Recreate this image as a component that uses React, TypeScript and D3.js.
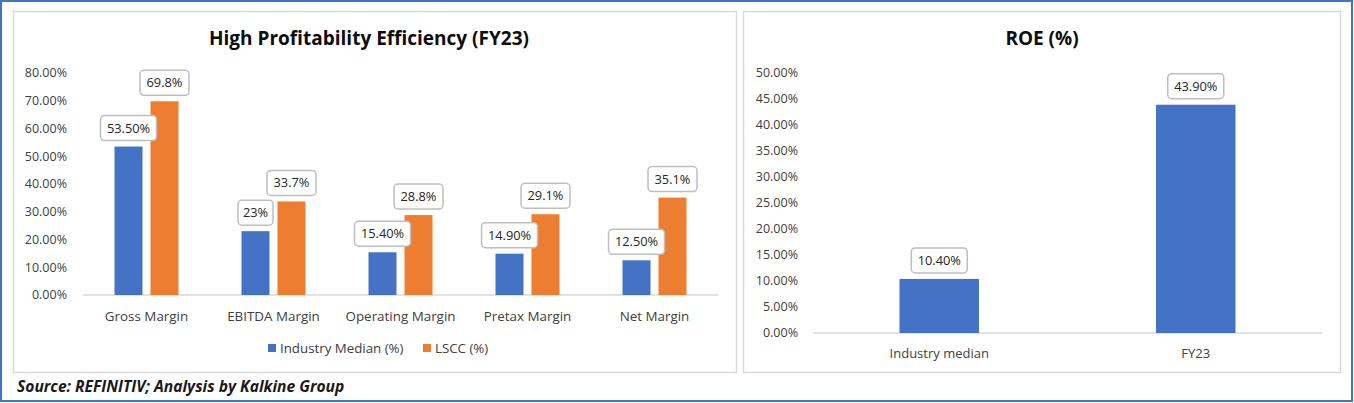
import React from "react";
import * as d3 from "d3";

const categories = ["Gross Margin", "EBITDA Margin", "Operating Margin", "Pretax Margin", "Net Margin"];
const seriesNames = ["Industry Median (%)", "LSCC (%)"];
const industryValues = [53.5, 23, 15.4, 14.9, 12.5];
const industryLabels = ["53.50%", "23%", "15.40%", "14.90%", "12.50%"];
const lsccValues = [69.8, 33.7, 28.8, 29.1, 35.1];
const lsccLabels = ["69.8%", "33.7%", "28.8%", "29.1%", "35.1%"];
const leftTicks = [0, 10, 20, 30, 40, 50, 60, 70, 80];

const roeCategories = ["Industry median", "FY23"];
const roeValues = [10.4, 43.9];
const roeLabels = ["10.40%", "43.90%"];
const rightTicks = [0, 5, 10, 15, 20, 25, 30, 35, 40, 45, 50];

const BLUE = "#4472C4";
const ORANGE = "#ED7D31";
const FONT = "'Open Sans', sans-serif";

function Callout({ cx, barTop, text }: { cx: number; barTop: number; text: string }) {
  const w = text.length * 7 + 14;
  const h = 25;
  const y = barTop - 6 - h;
  return (
    <g>
      <rect x={cx - w / 2} y={y} width={w} height={h} rx={4} ry={4} fill="#fff" stroke="#bfbfbf" strokeWidth={1.5} />
      <text x={cx} y={y + h / 2} dy="0.35em" textAnchor="middle" fontSize={12.8} fill="#262626" fontFamily={FONT}>
        {text}
      </text>
    </g>
  );
}

export default function App() {
  const yL = d3.scaleLinear().domain([0, 80]).range([295, 73]);
  const xL = d3.scaleBand<string>().domain(categories).range([83, 718]);
  const bw = xL.bandwidth();
  const xSub = d3.scaleBand<string>().domain(seriesNames).range([bw / 2 - 32, bw / 2 + 32]).paddingInner(8 / 36);

  const yR = d3.scaleLinear().domain([0, 50]).range([333, 73]);
  const xR = d3.scaleBand<string>().domain(roeCategories).range([811, 1324]).paddingInner(0.69).paddingOuter(0.345);

  const seriesData = [
    { name: seriesNames[0], values: industryValues, labels: industryLabels, color: BLUE },
    { name: seriesNames[1], values: lsccValues, labels: lsccLabels, color: ORANGE },
  ];

  const legendX = [268, 423];

  return (
    <svg width={1354} height={403} style={{ position: "absolute", left: 0, top: 0, display: "block" }}>
      <rect x={0} y={0} width={1354} height={403} fill="#fff" />
      <rect x={1} y={1} width={1351} height={400} fill="none" stroke={BLUE} strokeWidth={2} />
      {/* panels */}
      <rect x={13.5} y={11.5} width={723} height={361} fill="#fff" stroke="#d9d9d9" strokeWidth={1.5} />
      <rect x={743.5} y={11.5} width={597} height={361} fill="#fff" stroke="#d9d9d9" strokeWidth={1.5} />

      {/* Left chart */}
      <text x={369} y={38} dy="0.35em" textAnchor="middle" fontSize={19} fontWeight="bold" fill="#0d0d0d" fontFamily={FONT}>
        High Profitability Efficiency (FY23)
      </text>
      {leftTicks.map((t) => (
        <text key={t} x={67} y={yL(t)} dy="0.35em" textAnchor="end" fontSize={12.5} fill="#404040" fontFamily={FONT}>
          {t.toFixed(2)}%
        </text>
      ))}
      <line x1={83} x2={718} y1={yL(0)} y2={yL(0)} stroke="#d9d9d9" strokeWidth={1.5} />
      {categories.map((c, i) => (
        <g key={c}>
          {seriesData.map((s) => {
            const x = (xL(c) as number) + (xSub(s.name) as number);
            const top = yL(s.values[i]);
            return (
              <rect key={s.name} x={x} y={top} width={xSub.bandwidth()} height={yL(0) - top} fill={s.color} />
            );
          })}
          <text x={(xL(c) as number) + bw / 2} y={316} dy="0.35em" textAnchor="middle" fontSize={13.4} fill="#404040" fontFamily={FONT}>
            {c}
          </text>
        </g>
      ))}
      {categories.map((c, i) => (
        <g key={c + "-lbl"}>
          {seriesData.map((s) => {
            const cx = (xL(c) as number) + (xSub(s.name) as number) + xSub.bandwidth() / 2;
            return <Callout key={s.name} cx={cx} barTop={yL(s.values[i])} text={s.labels[i]} />;
          })}
        </g>
      ))}
      {seriesData.map((s, i) => (
        <g key={s.name + "-leg"}>
          <rect x={legendX[i]} y={344} width={8} height={8} fill={s.color} />
          <text x={legendX[i] + 12} y={348} dy="0.35em" fontSize={13.3} fill="#404040" fontFamily={FONT}>
            {s.name}
          </text>
        </g>
      ))}

      {/* Right chart */}
      <text x={1042} y={38} dy="0.35em" textAnchor="middle" fontSize={19} fontWeight="bold" fill="#0d0d0d" fontFamily={FONT}>
        ROE (%)
      </text>
      {rightTicks.map((t) => (
        <text key={t} x={798} y={yR(t)} dy="0.35em" textAnchor="end" fontSize={12.5} fill="#404040" fontFamily={FONT}>
          {t.toFixed(2)}%
        </text>
      ))}
      <line x1={813} x2={1322} y1={yR(0)} y2={yR(0)} stroke="#d9d9d9" strokeWidth={1.5} />
      {roeCategories.map((c, i) => {
        const x = xR(c) as number;
        const top = yR(roeValues[i]);
        return (
          <g key={c}>
            <rect x={x} y={top} width={xR.bandwidth()} height={yR(0) - top} fill={BLUE} />
            <text x={x + xR.bandwidth() / 2} y={353} dy="0.35em" textAnchor="middle" fontSize={13} fill="#404040" fontFamily={FONT}>
              {c}
            </text>
            <Callout cx={x + xR.bandwidth() / 2} barTop={top} text={roeLabels[i]} />
          </g>
        );
      })}

      {/* Source */}
      <text x={17} y={387} dy="0.35em" fontSize={15.6} fontWeight="bold" fontStyle="italic" fill="#1a1a1a" fontFamily={FONT}>
        Source: REFINITIV; Analysis by Kalkine Group
      </text>
    </svg>
  );
}
